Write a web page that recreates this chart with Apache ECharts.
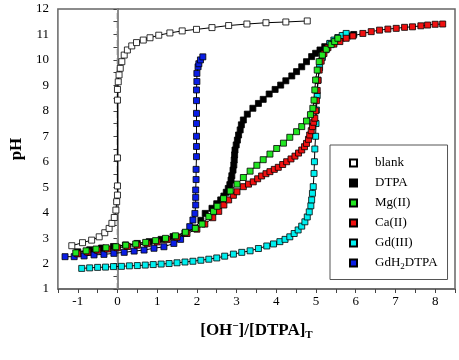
<!DOCTYPE html>
<html>
<head>
    <meta charset="utf-8">
    <title>pH titration</title>
    <script src="https://cdn.jsdelivr.net/npm/echarts@6/dist/echarts.min.js"></script>
</head>
<body style="margin:0">
    <div id="main" style="width:459px;height:360px;"></div>
    <script type="text/javascript">
        // [OH-]/[DTPA]T , pH
        var blank = [[-1.15, 2.70], [-0.88, 2.82], [-0.65, 2.92], [-0.46, 3.05], [-0.32, 3.21], [-0.21, 3.38],
            [-0.14, 3.58], [-0.08, 3.81], [-0.04, 4.10], [-0.02, 4.43], [0, 4.69], [0, 5.05], [0, 6.15],
            [0, 8.42], [0, 8.84], [0.02, 9.14], [0.04, 9.41], [0.07, 9.67], [0.11, 9.93], [0.17, 10.19],
            [0.25, 10.39], [0.36, 10.55], [0.48, 10.68], [0.65, 10.78], [0.82, 10.87], [1.04, 10.97],
            [1.32, 11.06], [1.63, 11.14], [1.99, 11.2], [2.38, 11.27], [2.80, 11.35], [3.26, 11.41],
            [3.74, 11.46], [4.24, 11.49], [4.78, 11.53]];
        var dtpa = [[-1.0, 2.46], [-0.7, 2.54], [-0.4, 2.61], [-0.1, 2.67], [0.2, 2.73], [0.5, 2.79],
            [0.8, 2.86], [1.1, 2.95], [1.4, 3.06], [1.7, 3.2], [1.95, 3.4], [2.1, 3.7], [2.21, 3.97],
            [2.38, 4.17], [2.5, 4.35], [2.6, 4.5], [2.68, 4.65], [2.74, 4.8], [2.79, 4.95], [2.83, 5.1],
            [2.86, 5.28], [2.88, 5.45], [2.91, 5.67], [2.93, 5.87], [2.94, 6.07], [2.95, 6.27], [2.96, 6.46],
            [2.99, 6.66], [3.02, 6.85], [3.05, 7.05], [3.09, 7.25], [3.12, 7.45], [3.17, 7.64], [3.27, 7.87],
            [3.41, 8.10], [3.55, 8.29], [3.67, 8.45], [3.82, 8.66], [3.97, 8.84], [4.11, 9.01], [4.24, 9.18],
            [4.39, 9.37], [4.51, 9.54], [4.64, 9.73], [4.76, 9.93], [4.89, 10.13], [4.99, 10.26], [5.10, 10.39],
            [5.22, 10.52], [5.35, 10.64], [5.5, 10.76], [5.65, 10.86], [5.8, 10.94], [5.95, 11.0]];
        var mg = [[-1.05, 2.42], [-0.79, 2.50], [-0.54, 2.57], [-0.29, 2.62], [-0.04, 2.66], [0.21, 2.72],
            [0.46, 2.77], [0.71, 2.83], [0.96, 2.90], [1.21, 2.99], [1.46, 3.09], [1.71, 3.23], [1.96, 3.38],
            [2.13, 3.55], [2.30, 3.85], [2.42, 4.05], [2.51, 4.25], [2.67, 4.55], [2.84, 4.85], [3.01, 5.12],
            [3.17, 5.38], [3.34, 5.63], [3.51, 5.86], [3.67, 6.08], [3.84, 6.30], [4.01, 6.52], [4.18, 6.73],
            [4.34, 6.96], [4.51, 7.18], [4.64, 7.38], [4.76, 7.6], [4.86, 7.85], [4.92, 8.1], [4.95, 8.42],
            [4.97, 8.82], [4.99, 9.21], [5.03, 9.60], [5.08, 9.93], [5.16, 10.19], [5.26, 10.42], [5.38, 10.6],
            [5.47, 10.72], [5.55, 10.85]];
        var ca = [[-1.0, 2.38], [-0.75, 2.45], [-0.5, 2.52], [-0.25, 2.57], [0, 2.62], [0.25, 2.67], [0.5, 2.72],
            [0.75, 2.78], [1.0, 2.85], [1.25, 2.94], [1.5, 3.04], [1.75, 3.18], [2.0, 3.35], [2.2, 3.55],
            [2.4, 3.8], [2.55, 4.05], [2.68, 4.3], [2.8, 4.5], [2.92, 4.68], [3.01, 4.82], [3.17, 5.02],
            [3.3, 5.12], [3.42, 5.21], [3.53, 5.33], [3.63, 5.44], [3.74, 5.53], [3.84, 5.61], [3.95, 5.7],
            [4.05, 5.78], [4.16, 5.89], [4.26, 6.0], [4.37, 6.11], [4.47, 6.22], [4.56, 6.34], [4.64, 6.46],
            [4.71, 6.59], [4.76, 6.72], [4.81, 6.88], [4.84, 7.05], [4.88, 7.22], [4.91, 7.38], [4.94, 7.55],
            [4.97, 7.71], [4.99, 8.0], [5.01, 8.4], [5.03, 8.8], [5.05, 9.2], [5.08, 9.6], [5.13, 9.95],
            [5.2, 10.25], [5.3, 10.48], [5.45, 10.62], [5.6, 10.72], [5.76, 10.85], [5.93, 10.94], [6.18, 11.04],
            [6.39, 11.11], [6.60, 11.17], [6.81, 11.21], [7.02, 11.24], [7.23, 11.28], [7.43, 11.30],
            [7.64, 11.34], [7.81, 11.37], [8.0, 11.40], [8.19, 11.41]];
        var gd = [[-0.90, 1.81], [-0.7, 1.83], [-0.5, 1.85], [-0.3, 1.86], [-0.1, 1.88], [0.1, 1.89], [0.3, 1.91],
            [0.5, 1.92], [0.7, 1.94], [0.9, 1.96], [1.1, 1.98], [1.3, 2.0], [1.5, 2.03], [1.7, 2.06], [1.9, 2.09],
            [2.1, 2.13], [2.3, 2.17], [2.5, 2.22], [2.7, 2.29], [2.92, 2.37], [3.13, 2.44], [3.34, 2.50],
            [3.55, 2.59], [3.76, 2.69], [3.93, 2.77], [4.09, 2.86], [4.22, 2.95], [4.34, 3.05], [4.45, 3.18],
            [4.55, 3.32], [4.64, 3.47], [4.72, 3.64], [4.78, 3.83], [4.83, 4.03], [4.87, 4.27], [4.89, 4.50],
            [4.91, 4.76], [4.93, 5.02], [4.95, 5.54], [4.96, 6.0], [4.97, 6.5], [4.99, 7.0], [5.0, 7.5],
            [5.01, 8.03], [5.03, 8.6], [5.05, 9.2], [5.09, 9.7], [5.16, 10.1], [5.25, 10.4], [5.35, 10.65],
            [5.45, 10.78], [5.55, 10.88], [5.66, 10.96], [5.76, 11.04]];
        var gdh2 = [[-1.32, 2.27], [-1.09, 2.27], [-0.84, 2.30], [-0.59, 2.34], [-0.34, 2.36], [-0.09, 2.40],
            [0.17, 2.44], [0.42, 2.49], [0.67, 2.53], [0.92, 2.60], [1.17, 2.66], [1.42, 2.79], [1.59, 2.95],
            [1.71, 3.19], [1.82, 3.45], [1.90, 3.71], [1.95, 3.97], [1.97, 4.3], [1.97, 4.6], [1.97, 4.89],
            [1.98, 5.3], [1.98, 5.7], [1.99, 6.2], [1.99, 6.6], [1.99, 7.0], [1.99, 7.5], [1.99, 7.9],
            [1.99, 8.4], [1.99, 8.82], [2.0, 9.15], [2.0, 9.47], [2.03, 9.73], [2.05, 9.85], [2.09, 10.0],
            [2.15, 10.12]];
        // vertical reference at x = 0
        var zeroLine = [[0, 1], [0, 12]];

        var legendOrder = ['blank', 'DTPA', 'Mg(II)', 'Ca(II)', 'Gd(III)', 'GdH2DTPA'];
        var serif = 'Liberation Serif';

        function makeSeries(name, data, fill) {
            return {
                name: name,
                type: 'line',
                data: data,
                symbol: 'rect',
                symbolSize: 6,
                showAllSymbol: true,
                lineStyle: { color: '#000', width: 1 },
                itemStyle: { color: fill, borderColor: '#000', borderWidth: 0.8 },
                emphasis: { disabled: true },
                animation: false
            };
        }

        var series = [
            {
                name: 'zero',
                type: 'line',
                data: zeroLine,
                symbol: 'none',
                silent: true,
                lineStyle: { color: '#888', type: 'dashed', dashOffset: 0, width: 1.5 }
            },
            makeSeries('blank', blank, '#fff'),
            makeSeries('DTPA', dtpa, '#000'),
            makeSeries('Gd(III)', gd, '#00f0f0'),
            makeSeries('GdH2DTPA', gdh2, '#0a1ee6'),
            makeSeries('Ca(II)', ca, '#f01010'),
            makeSeries('Mg(II)', mg, '#22e622')
        ];

        var myChart = echarts.init(document.getElementById('main'));
        var option = {
            animation: false,
            grid: {
                left: 57, top: 9, right: 4, bottom: 71,
                show: true, borderColor: '#666', borderWidth: 1.5
            },
            legend: {
                data: legendOrder,
                orient: 'vertical',
                left: 330,
                top: 145,
                padding: [11, 10, 8, 19],
                itemWidth: 7,
                itemHeight: 7,
                itemGap: 6,
                borderColor: '#555',
                borderWidth: 1,
                icon: 'rect',
                formatter: function (name) {
                    return name === 'GdH2DTPA' ? 'GdH{s|2}DTPA' : name;
                },
                textStyle: {
                    fontFamily: serif, fontSize: 13, color: '#000', lineHeight: 14,
                    padding: [0, 0, 0, 13],
                    rich: { s: { fontFamily: serif, fontSize: 9, padding: [8, 0, 0, 0] } }
                }
            },
            xAxis: {
                type: 'value',
                min: -1.5,
                max: 8.5,
                interval: 0.5,
                splitLine: { show: false },
                axisLine: { onZero: false, lineStyle: { color: '#666', width: 1.5 } },
                axisTick: { length: 4, lineStyle: { color: '#444' } },
                axisLabel: {
                    fontFamily: serif, fontSize: 13, color: '#000', margin: 6,
                    formatter: function (v) { return (v % 1 === 0 && v < 8.5) ? String(v) : ''; }
                },
                name: '[OH{sup|\u2212}]/[DTPA]{sub|T}',
                nameLocation: 'middle',
                nameGap: 31,
                nameTextStyle: {
                    fontFamily: serif, fontSize: 17, fontWeight: 'bold', color: '#000',
                    rich: {
                        sup: { fontFamily: serif, fontSize: 11, fontWeight: 'bold', padding: [0, 0, 9, 0] },
                        sub: { fontFamily: serif, fontSize: 11, fontWeight: 'bold', padding: [10, 0, 0, 0] }
                    }
                }
            },
            yAxis: {
                type: 'value',
                min: 1,
                max: 12,
                interval: 0.5,
                splitLine: { show: false },
                axisLine: { lineStyle: { color: '#666', width: 1.5 } },
                axisTick: { length: 4, lineStyle: { color: '#444' } },
                axisLabel: {
                    fontFamily: serif, fontSize: 13, color: '#000', margin: 9,
                    formatter: function (v) { return v % 1 === 0 ? String(v) : ''; }
                },
                name: 'pH',
                nameLocation: 'middle',
                nameGap: 30,
                nameTextStyle: { fontFamily: serif, fontSize: 17, fontWeight: 'bold', color: '#000' }
            },
            series: series
        };
        myChart.setOption(option);
    </script>
</body>
</html>
